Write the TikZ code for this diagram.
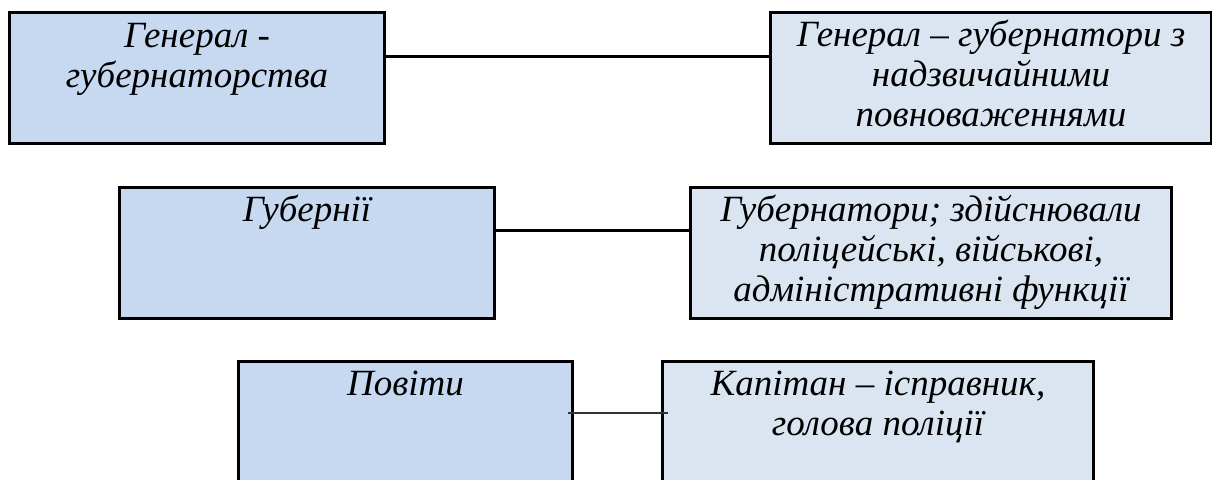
\documentclass[tikz,border=0pt]{standalone}
\usepackage{fontspec}
\setmainfont{Liberation Serif}
\usetikzlibrary{positioning}
\definecolor{unitblue}{RGB}{198,217,241}
\definecolor{headblue}{RGB}{219,229,241}
\tikzset{
  unit/.style={
      draw=black,
      line width=3pt,
      fill=unitblue,
      minimum height=131pt,
      inner sep=0pt
      },
  head/.style={
      unit,
      fill=headblue
      },
  caption/.style={
      anchor=base,
      align=center,
      inner sep=0pt,
      font=\fontsize{37}{40}\selectfont\itshape
      },
  link/.style={
      draw=black,
      line width=3pt
      }
}

\begin{document}
\begin{tikzpicture}[x=1pt,y=-1pt]
\clip (0,0) rectangle (1212,479);
\node [unit, minimum width=375pt, anchor=north west] (gengub) at (8,11) {};
\node [head, minimum width=441pt, anchor=north west] (genpow) at (769,11) {};
\node [unit, minimum width=375pt, anchor=north west] (gub) at (118,186) {};
\node [head, minimum width=481pt, anchor=north west] (gubfun) at (689,186) {};
\node [unit, minimum width=334pt, anchor=north west] (pov) at (237,360) {};
\node [head, minimum width=431pt, anchor=north west] (kap) at (661,360) {};
% texts (base = last line)
\node [caption] (gengubtext) at ([yshift=-76pt]gengub.north) {Генерал -\\губернаторства};
\node [caption] (genpowtext) at ([yshift=-115pt]genpow.north) {Генерал – губернатори з\\надзвичайними\\повноваженнями};
\node [caption] (gubtext) at ([yshift=-35pt]gub.north) {Губернії};
\node [caption] (gubfuntext) at ([yshift=-115pt]gubfun.north) {Губернатори; здійснювали\\поліцейські, військові,\\адміністративні функції};
\node [caption] (povtext) at ([yshift=-35pt]pov.north) {Повіти};
\node [caption] (kaptext) at ([yshift=-75pt]kap.north) {Капітан – ісправник,\\голова поліції};
% links
\draw [link] ([yshift=-45pt]gengub.north east) to ([yshift=-45pt]genpow.north west);
\draw [link] ([yshift=-44pt]gub.north east) to ([yshift=-44pt]gubfun.north west);
\draw [link, line width=2pt, black!80] ([xshift=-6pt,yshift=-53pt]pov.north east) to ([xshift=7pt,yshift=-53pt]kap.north west);
\end{tikzpicture}
\end{document}
